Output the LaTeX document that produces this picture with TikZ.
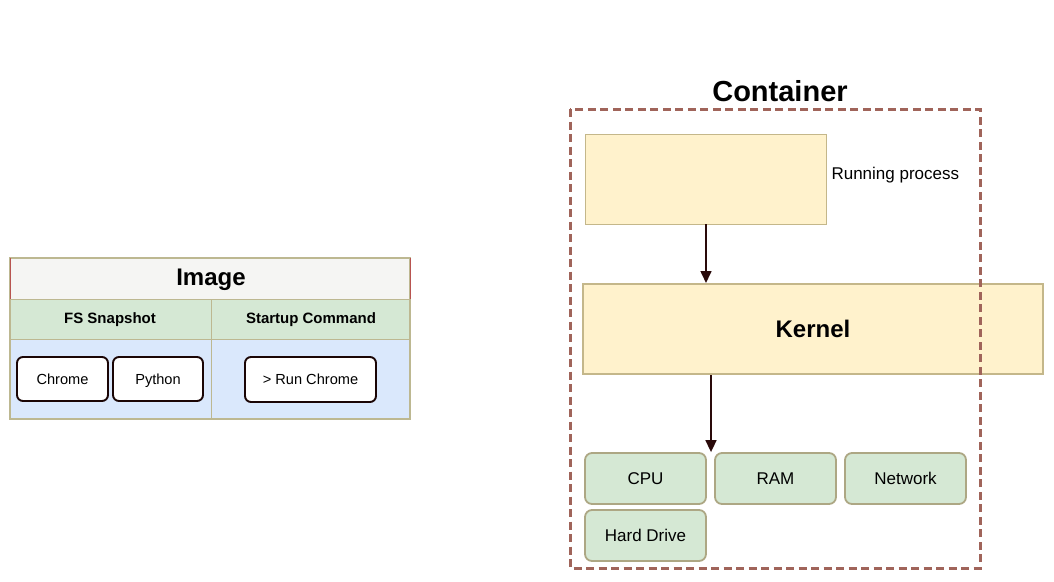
\documentclass[tikz,border=0pt]{standalone}
\usepackage{fontspec}
\setmainfont{Liberation Sans}
\usetikzlibrary{arrows.meta}
\definecolor{yfill}{HTML}{FFF2CC}
\definecolor{yline}{HTML}{C4B78A}
\definecolor{gfill}{HTML}{D5E8D4}
\definecolor{gline}{HTML}{ADA784}
\definecolor{bfill}{HTML}{DAE8FC}
\definecolor{hfill}{HTML}{F5F5F3}
\definecolor{tline}{HTML}{BDB891}
\definecolor{hline}{HTML}{B85450}
\definecolor{cline}{HTML}{A0645A}
\definecolor{aline}{HTML}{2A0A0A}
\definecolor{iline}{HTML}{1A0505}
\tikzset{
  item/.style={draw=iline, fill=white, line width=1.9pt, rounded corners=6pt, inner sep=0pt, text height=10.5pt, text depth=0pt, font=\fontsize{14.6}{17}\selectfont},
  res/.style={draw=gline, fill=gfill, line width=1.8pt, rounded corners=7pt, inner sep=0pt, text height=12.2pt, text depth=0pt, font=\fontsize{17}{20}\selectfont},
  ybox/.style={draw=yline, fill=yfill, inner sep=0pt},
  arr/.style={draw=aline, line width=1.6pt, -{Triangle[length=12pt,width=11pt]}},
}
\begin{document}
\begin{tikzpicture}[x=1pt,y=-1pt]
\useasboundingbox (0,0) rectangle (1054,581);
% Image table
\fill[hfill] (10,258) rectangle (410,299);
\fill[gfill] (10,299) rectangle (410,339);
\fill[bfill] (10,339) rectangle (410,419);
\draw[tline, line width=1.2pt] (10,258) rectangle (410,419);
\draw[tline, line width=1pt] (10,299) -- (410,299) (10,339) -- (410,339) (211,299) -- (211,419);
\draw[hline, line width=0.8pt] (10,299) -- (10,258) (410,258) -- (410,299);
\node[font=\bfseries\fontsize{24}{28}\selectfont] (imgt) at (211,280) {Image};
\node[font=\bfseries\fontsize{15}{18}\selectfont] (fs) at (110,320) {FS Snapshot};
\node[font=\bfseries\fontsize{15}{18}\selectfont] (sc) at (311,320) {Startup Command};
\node[item, minimum width=91pt, minimum height=44pt] (chrome) at (62.5,379) {Chrome};
\node[item, minimum width=90pt, minimum height=44pt] (python) at (158,379) {Python};
\node[item, minimum width=131pt, minimum height=45pt] (run) at (310.5,379.5) {> Run Chrome};
% Container
\node[font=\bfseries\fontsize{29}{34}\selectfont, anchor=base] (ct) at (780,101) {Container};
\node[ybox, line width=0.8pt, minimum width=241pt, minimum height=90pt] (proc) at (705.5,179) {};
\node[anchor=west, font=\fontsize{17}{20}\selectfont] (proct) at (828,175) {Running process};
\node[ybox, line width=2pt, minimum width=460pt, minimum height=90pt, font=\bfseries\fontsize{24}{28}\selectfont] (kern) at (813,329) {Kernel};
\draw[cline, line width=3pt, dash pattern=on 8pt off 4.5pt] (570,109) rectangle (980,568);
\node[res, minimum width=121pt, minimum height=51pt] (cpu) at (645.5,478.5) {CPU};
\node[res, minimum width=121pt, minimum height=51pt] (ram) at (775.5,478.5) {RAM};
\node[res, minimum width=121pt, minimum height=51pt] (net) at (905.5,478.5) {Network};
\node[res, minimum width=121pt, minimum height=51pt] (hd) at (645.5,535.5) {Hard Drive};
\draw[arr] (proc.south -| 706,0) -- (kern.north -| 706,0);
\draw[arr] (kern.south -| 711,0) -- (cpu.north -| 711,0);
\end{tikzpicture}
\end{document}
